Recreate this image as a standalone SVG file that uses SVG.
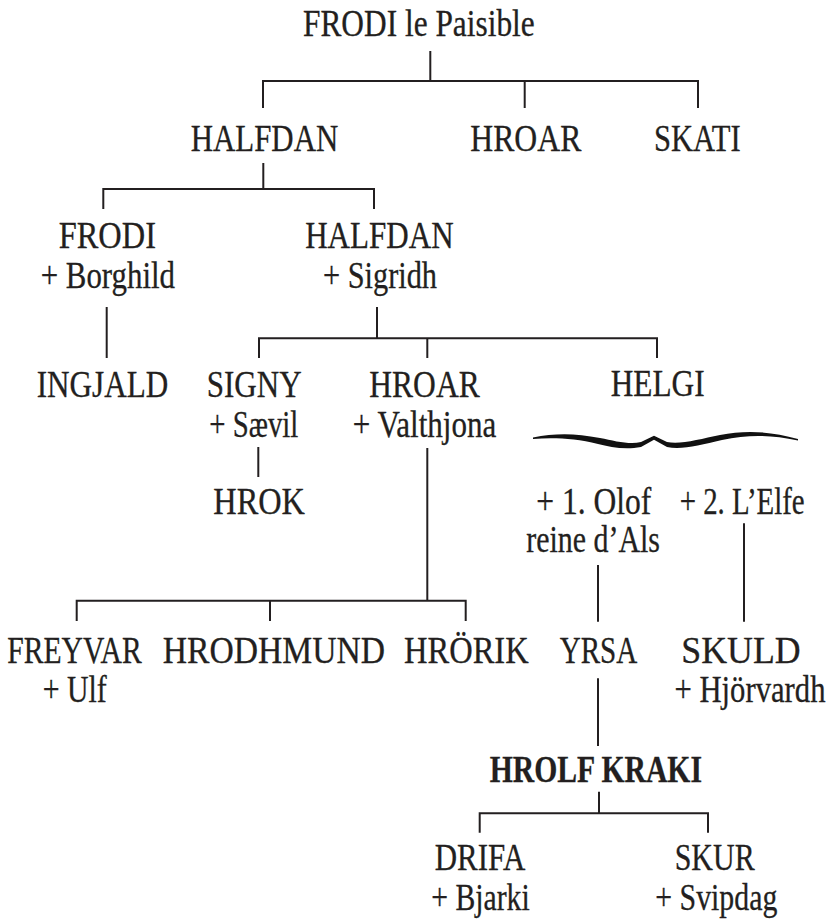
<svg xmlns="http://www.w3.org/2000/svg" width="837" height="920" viewBox="0 0 837 920">
<style>
  text { font-family: "Liberation Serif", "Times New Roman", serif; font-size: 37px; fill: #231f20; stroke: #231f20; stroke-width: 0.3px; }
  .b { font-weight: bold; }
  .c { fill: none; stroke: #231f20; stroke-width: 2; stroke-linecap: butt; stroke-linejoin: miter; }
</style>
<rect width="837" height="920" fill="#ffffff"/>
<g id="connectors">
  <path class="c" d="M430.3 51V81"/>
  <path class="c" d="M263 108V81H698V108"/>
  <path class="c" d="M524.7 81V108"/>
  <path class="c" d="M263.3 163V189"/>
  <path class="c" d="M103.3 209V189H374V209"/>
  <path class="c" d="M106.7 307V358"/>
  <path class="c" d="M377 307V338.3"/>
  <path class="c" d="M259 358V338.3H657V358"/>
  <path class="c" d="M427.3 338.3V358"/>
  <path class="c" d="M258.3 447V477"/>
  <path class="c" d="M427.3 448V600.7"/>
  <path class="c" d="M76.7 621V600.7H465.7V621"/>
  <path class="c" d="M270 600.7V621"/>
  <path class="c" d="M598 565V621.7"/>
  <path class="c" d="M744 523.3V621.7"/>
  <path class="c" d="M598 678.3V746"/>
  <path class="c" d="M599 791.7V813.3"/>
  <path class="c" d="M479.7 832.7V813.3H708V832.7"/>
  <path id="brace" fill="#111" stroke="none" d="M533,437.5 C555,433 575,433 600,438 C615,441 630,445 641,442 L654,435.8 L667,442 C680,445 700,439 720,435 C745,430 770,431 798,439 L798,440.5 C770,434.5 748,434.5 722,440 C700,445 682,450 667,447 L654,439.8 L641,447 C625,450 610,447 598,444 C575,438.5 555,437.5 533,439 Z"/>
</g>
<g id="frodi-le-paisible"><text x="303" y="36" textLength="231.7" lengthAdjust="spacingAndGlyphs">FRODI le Paisible</text></g>
<g id="halfdan-1"><text x="190.7" y="150.5" textLength="147.6" lengthAdjust="spacingAndGlyphs">HALFDAN</text></g>
<g id="hroar-1"><text x="470.3" y="150.5" textLength="111" lengthAdjust="spacingAndGlyphs">HROAR</text></g>
<g id="skati"><text x="654" y="150.5" textLength="86.7" lengthAdjust="spacingAndGlyphs">SKATI</text></g>
<g id="frodi-2">
  <text x="58.7" y="248" textLength="97.3" lengthAdjust="spacingAndGlyphs">FRODI</text>
  <text x="40.7" y="288.3" textLength="134.3" lengthAdjust="spacingAndGlyphs">+ Borghild</text>
</g>
<g id="halfdan-2">
  <text x="305.2" y="248" textLength="148.4" lengthAdjust="spacingAndGlyphs">HALFDAN</text>
  <text x="323" y="288.3" textLength="114" lengthAdjust="spacingAndGlyphs">+ Sigridh</text>
</g>
<g id="ingjald"><text x="36.7" y="396.5" textLength="131.6" lengthAdjust="spacingAndGlyphs">INGJALD</text></g>
<g id="signy">
  <text x="206.7" y="396.5" textLength="95" lengthAdjust="spacingAndGlyphs">SIGNY</text>
  <text x="209.3" y="436.5" textLength="89" lengthAdjust="spacingAndGlyphs">+ Sævil</text>
</g>
<g id="hroar-2">
  <text x="369.3" y="396.5" textLength="110.4" lengthAdjust="spacingAndGlyphs">HROAR</text>
  <text x="352.7" y="436.5" textLength="143.6" lengthAdjust="spacingAndGlyphs">+ Valthjona</text>
</g>
<g id="helgi"><text x="610.7" y="396" textLength="94" lengthAdjust="spacingAndGlyphs">HELGI</text></g>
<g id="hrok"><text x="213.3" y="514" textLength="91.7" lengthAdjust="spacingAndGlyphs">HROK</text></g>
<g id="olof">
  <text x="536.3" y="514" textLength="115" lengthAdjust="spacingAndGlyphs">+ 1. Olof</text>
  <text x="526.3" y="551.7" textLength="133.7" lengthAdjust="spacingAndGlyphs">reine d’Als</text>
</g>
<g id="elfe"><text transform="translate(679.7,514) scale(0.764,1)" x="0" y="0" textLength="163.6" lengthAdjust="spacingAndGlyphs">+ 2. L’Elfe</text></g>
<g id="freyvar">
  <text x="7.3" y="662.7" textLength="134.4" lengthAdjust="spacingAndGlyphs">FREYVAR</text>
  <text x="42.7" y="701.7" textLength="64" lengthAdjust="spacingAndGlyphs">+ Ulf</text>
</g>
<g id="hrodhmund"><text x="162.7" y="662.7" textLength="222.3" lengthAdjust="spacingAndGlyphs">HRODHMUND</text></g>
<g id="hrorik"><text x="404" y="662.7" textLength="124.7" lengthAdjust="spacingAndGlyphs">HRÖRIK</text></g>
<g id="yrsa"><text x="559.7" y="662.7" textLength="77.6" lengthAdjust="spacingAndGlyphs">YRSA</text></g>
<g id="skuld">
  <text x="681.3" y="662.7" textLength="119.4" lengthAdjust="spacingAndGlyphs">SKULD</text>
  <text transform="translate(674.5,701.7) scale(0.83,1)" x="0" y="0" textLength="181.9" lengthAdjust="spacingAndGlyphs">+ Hjörvardh</text>
</g>
<g id="hrolf-kraki"><text class="b" x="489.7" y="781.7" textLength="212.3" lengthAdjust="spacingAndGlyphs">HROLF KRAKI</text></g>
<g id="drifa">
  <text x="434.7" y="870" textLength="90.6" lengthAdjust="spacingAndGlyphs">DRIFA</text>
  <text x="431.3" y="910" textLength="98.4" lengthAdjust="spacingAndGlyphs">+ Bjarki</text>
</g>
<g id="skur">
  <text x="674.7" y="870" textLength="80" lengthAdjust="spacingAndGlyphs">SKUR</text>
  <text x="655.3" y="910" textLength="122" lengthAdjust="spacingAndGlyphs">+ Svipdag</text>
</g>
</svg>
